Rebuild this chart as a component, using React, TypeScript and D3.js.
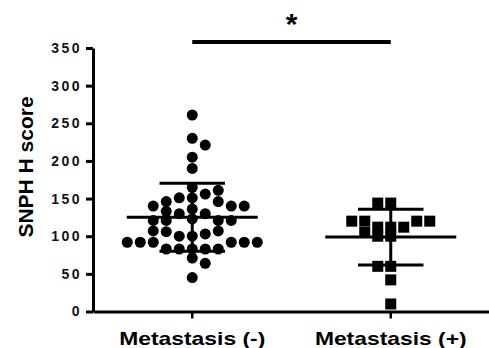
import React, { useEffect, useRef } from "react";
import * as d3 from "d3";

// SNPH H score per patient
// (listed in the order the swarm places them, centre rows first)
const groups = ["Metastasis (-)", "Metastasis (+)"];
const negativeScores = [
    261, 230, 221, 205, 190, 151, 156, 151, 161, 165, 123, 130, 130, 133, 146,
    146, 140, 140, 140, 136, 121, 121, 121, 121, 100, 100, 103, 106, 107, 107,
    83, 83, 83, 83, 83, 92, 92, 92, 92, 92, 92, 71, 64, 45,
];
const positiveScores = [112, 112, 112, 105, 100, 100, 120, 120, 120, 120, 144, 144, 60, 60, 42, 10];
const yTicks = [0, 50, 100, 150, 200, 250, 300, 350];
const yLabel = "SNPH H score";
const significance = "*";

const FONT = "'Liberation Sans', Arial, Helvetica, sans-serif";

// Prism-like scatter: each point goes to the free slot closest to the centre,
// a slot is taken when another point is less than w across and h up/down
function dodge(ys: number[], w: number, h: number): number[] {
    const placed: { x: number; y: number }[] = [];
    return ys.map((yi, i) => {
        const near = placed.filter((p) => Math.abs(p.y - yi) < h);
        const cands = [0];
        near.forEach((p) => cands.push(p.x - w, p.x + w));
        const side = i % 2 === 0 ? 1 : -1;
        cands.sort((a, b) => Math.abs(a) - Math.abs(b) || side * (b - a));
        const x = cands.find((c) => near.every((p) => Math.abs(p.x - c) >= w - 0.01))!;
        placed.push({ x, y: yi });
        return x;
    });
}

const App: React.FC = () => {
    const svgRef = useRef<SVGSVGElement | null>(null);

    useEffect(() => {
        if (!svgRef.current) return;
        const svg = d3.select(svgRef.current);
        svg.selectAll("*").remove();

        const width = 489;
        const height = 348;
        const margin = { top: 48, right: 0, bottom: 36.5, left: 93 };

        const x = d3
            .scaleBand()
            .domain(groups)
            .range([margin.left, width + 1]);
        const y = d3
            .scaleLinear()
            .domain([0, 350])
            .range([height - margin.bottom, margin.top]);

        const cx = (g: string) => x(g)! + x.bandwidth() / 2;

        // y axis
        const yAxis = svg
            .append("g")
            .attr("transform", `translate(${margin.left},0)`)
            .call(d3.axisLeft(y).tickValues(yTicks).tickSize(7).tickSizeOuter(0).tickPadding(4));
        yAxis.select(".domain").attr("stroke-width", 3).attr("stroke", "#000");
        yAxis.selectAll(".tick line").attr("stroke-width", 3).attr("stroke", "#000");
        yAxis
            .selectAll(".tick text")
            .style("font-family", FONT)
            .attr("font-size", 14)
            .attr("font-weight", "bold")
            .attr("letter-spacing", 2.5)
            .attr("fill", "#111");

        // x axis
        const xAxis = svg
            .append("g")
            .attr("transform", `translate(0,${y(0)})`)
            .call(d3.axisBottom(x).tickSize(7).tickSizeOuter(0).tickPadding(13.5));
        xAxis.select(".domain").attr("stroke-width", 3).attr("stroke", "#000");
        xAxis.selectAll(".tick line").attr("stroke-width", 2.5).attr("stroke", "#000");
        xAxis
            .selectAll(".tick text")
            .style("font-family", FONT)
            .attr("font-size", 18)
            .attr("font-weight", "bold")
            .attr("transform", "scale(1.27,1)")
            .attr("fill", "#000");

        // y axis title
        svg
            .append("text")
            .attr("transform", `translate(33,167) rotate(-90)`)
            .attr("text-anchor", "middle")
            .style("font-family", FONT)
            .attr("font-size", 21)
            .attr("font-weight", "bold")
            .text(yLabel);

        const dot = 11;

        // Metastasis (-): circles
        const negX = dodge(negativeScores.map((v) => y(v)), 13, 8.8);
        svg
            .append("g")
            .selectAll("circle")
            .data(negativeScores)
            .join("circle")
            .attr("cx", (_, i) => cx(groups[0]) + negX[i])
            .attr("cy", (d) => y(d))
            .attr("r", dot / 2)
            .attr("fill", "#000");

        // Metastasis (+): squares
        const posX = dodge(positiveScores.map((v) => y(v)), 13, 8.8);
        svg
            .append("g")
            .selectAll("rect")
            .data(positiveScores)
            .join("rect")
            .attr("x", (_, i) => cx(groups[1]) + posX[i] - dot / 2)
            .attr("y", (d) => y(d) - dot / 2)
            .attr("width", dot)
            .attr("height", dot)
            .attr("fill", "#000");

        // mean +/- SD
        [negativeScores, positiveScores].forEach((vals, i) => {
            const c = cx(groups[i]);
            const m = d3.mean(vals)!;
            const sd = d3.deviation(vals)!;
            const meanHalf = x.bandwidth() * 0.33;
            const capHalf = x.bandwidth() * 0.165;
            const g = svg.append("g").attr("stroke", "#000").attr("stroke-width", 3);
            g.append("line").attr("x1", c - meanHalf).attr("x2", c + meanHalf).attr("y1", y(m)).attr("y2", y(m));
            g.append("line").attr("x1", c).attr("x2", c).attr("y1", y(m + sd)).attr("y2", y(m - sd));
            [m + sd, m - sd].forEach((v) =>
                g.append("line").attr("x1", c - capHalf).attr("x2", c + capHalf).attr("y1", y(v)).attr("y2", y(v))
            );
        });

        // significance bracket
        svg
            .append("line")
            .attr("x1", cx(groups[0]))
            .attr("x2", cx(groups[1]))
            .attr("y1", 42)
            .attr("y2", 42)
            .attr("stroke", "#000")
            .attr("stroke-width", 4);
        svg
            .append("text")
            .attr("x", (cx(groups[0]) + cx(groups[1])) / 2)
            .attr("y", 34)
            .attr("text-anchor", "middle")
            .style("font-family", FONT)
            .attr("font-size", 30)
            .attr("font-weight", "bold")
            .text(significance);
    }, []);

    return (
        <svg
            ref={svgRef}
            width={489}
            height={348}
            style={{ position: "absolute", left: 0, top: 0, background: "#fff" }}
        ></svg>
    );
};

export default App;
